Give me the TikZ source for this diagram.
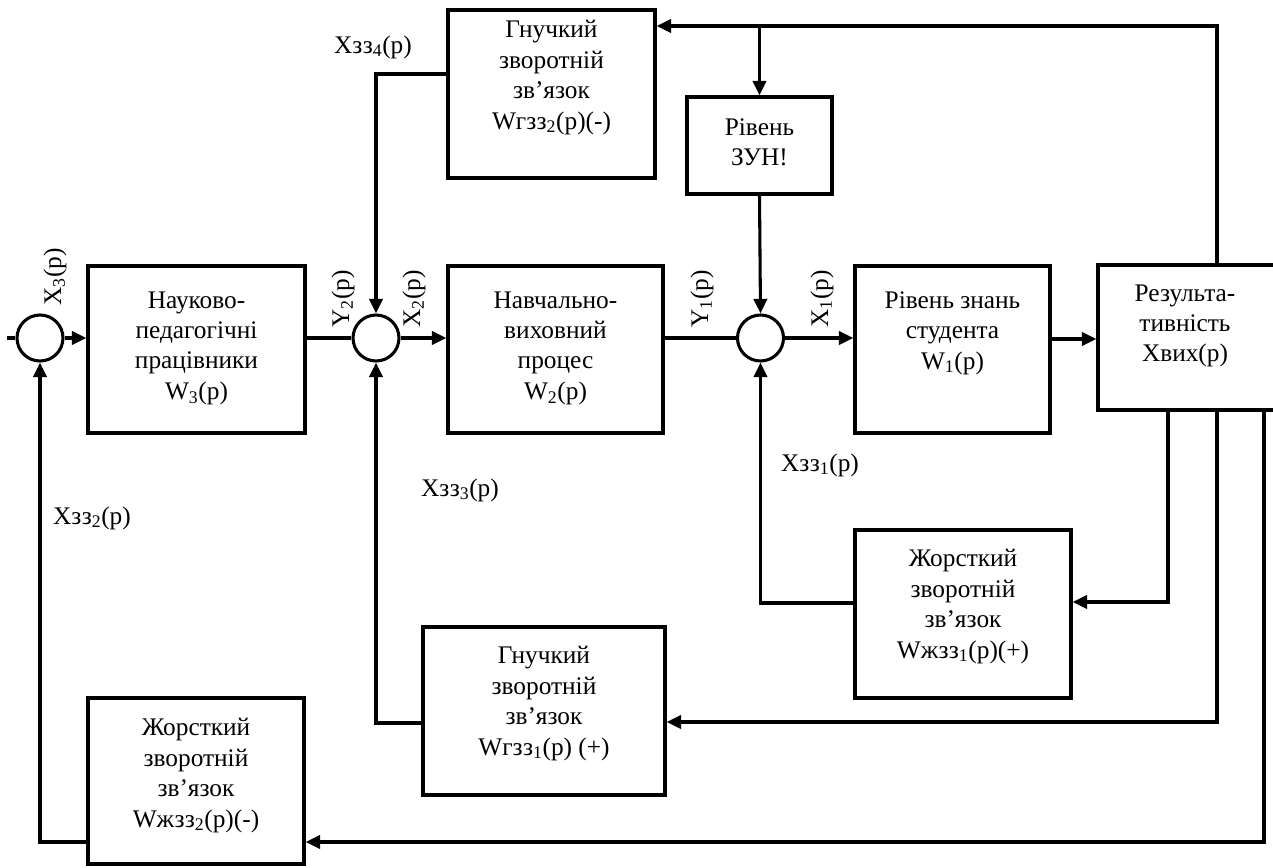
\documentclass[tikz,border=0pt]{standalone}
\usepackage{fontspec}
\setmainfont{Liberation Serif}
\usetikzlibrary{arrows.meta}
\begin{document}
\begin{tikzpicture}[x=0.75pt,y=-0.75pt,
  line width=2.3pt,
  box/.style={draw,rectangle,inner sep=0pt,line width=2.3pt},
  txt/.style={inner sep=0pt,align=center,font=\fontsize{19}{22.8}\selectfont,anchor=north},
  lbl/.style={inner sep=0pt,font=\fontsize{19}{22.8}\selectfont},
  sum/.style={draw,circle,minimum size=46pt*0.75,inner sep=0pt,line width=2.3pt},
  arr/.style={-{Triangle[length=11pt,width=10pt]}}]
\useasboundingbox (0,0) rectangle (1273,867);
% boxes
\node[box,minimum width=217*0.75pt,minimum height=167*0.75pt] (b1) at (196.5,349.5) {};
\node[box,minimum width=215*0.75pt,minimum height=167*0.75pt] (b2) at (555.5,349.5) {};
\node[box,minimum width=195*0.75pt,minimum height=167*0.75pt] (b3) at (952.5,349.5) {};
\node[box,minimum width=184*0.75pt,minimum height=145*0.75pt] (b4) at (1190,337.5) {};
\node[box,minimum width=207*0.75pt,minimum height=168*0.75pt] (b5) at (551.5,94) {};
\node[box,minimum width=145*0.75pt,minimum height=97*0.75pt] (b6) at (759.5,145.5) {};
\node[box,minimum width=216*0.75pt,minimum height=168*0.75pt] (b7) at (963,614) {};
\node[box,minimum width=242*0.75pt,minimum height=168*0.75pt] (b8) at (544,711) {};
\node[box,minimum width=216*0.75pt,minimum height=166*0.75pt] (b9) at (196,781) {};
% texts
\node[txt] (t1) at (196.5,290) {Науково-\\педагогічні\\працівники\\W\textsubscript{3}(p)};
\node[txt] (t2) at (555.5,290) {Навчально-\\виховний\\процес\\W\textsubscript{2}(p)};
\node[txt] (t3) at (952.5,290) {Рівень знань\\студента\\W\textsubscript{1}(p)};
\node[txt] (t4) at (1185,283) {Результа-\\тивність\\Xвих(p)};
\node[txt] (t5) at (551.5,19) {Гнучкий\\зворотній\\зв’язок\\Wгзз\textsubscript{2}(p)(-)};
\node[txt] (t6) at (759.5,117) {Рівень\\ЗУН!};
\node[txt] (t7) at (963,548) {Жорсткий\\зворотній\\зв’язок\\Wжзз\textsubscript{1}(p)(+)};
\node[txt] (t8) at (544,645) {Гнучкий\\зворотній\\зв’язок\\Wгзз\textsubscript{1}(p) (+)};
\node[txt] (t9) at (196,717) {Жорсткий\\зворотній\\зв’язок\\Wжзз\textsubscript{2}(p)(-)};
% summing junctions
\node[sum] (c3) at (40,338) {};
\node[sum] (c2) at (376,338) {};
\node[sum] (c1) at (760.5,338) {};
% labels
\node[lbl,rotate=90] (lx3) at (55,277) {X\textsubscript{3}(p)};
\node[lbl,rotate=90] (ly2) at (343,299) {Y\textsubscript{2}(p)};
\node[lbl,rotate=90] (lx2) at (414,299) {X\textsubscript{2}(p)};
\node[lbl,rotate=90] (ly1) at (702,299) {Y\textsubscript{1}(p)};
\node[lbl,rotate=90] (lx1) at (822,299) {X\textsubscript{1}(p)};
\node[lbl] (lz4) at (373,47) {Xзз\textsubscript{4}(p)};
\node[lbl] (lz1) at (820,465) {Xзз\textsubscript{1}(p)};
\node[lbl] (lz3) at (460,490) {Xзз\textsubscript{3}(p)};
\node[lbl] (lz2) at (92,518) {Xзз\textsubscript{2}(p)};
% coordinates
\coordinate (in) at (7,338);
\coordinate (tr) at (1217,26);
\coordinate (k4) at (376,74);
\coordinate (o3) at (1050,339);
\coordinate (r1) at (1168,602);
\coordinate (l1) at (760.5,603);
\coordinate (r2) at (1217,722);
\coordinate (l2) at (376,723);
\coordinate (r3) at (1264,842);
\coordinate (l3) at (40,842);
% forward path
\draw (in) -- (c3.west);
\draw[arr] (c3.east) -- (c3.east -| b1.west);
\draw (c2.west -| b1.east) -- (c2.west);
\draw[arr] (c2.east) -- (c2.east -| b2.west);
\draw (c1.west -| b2.east) -- (c1.west);
\draw[arr] (c1.east) -- (c1.east -| b3.west);
\draw[arr] (o3) -- (o3 -| b4.west);
% top feedback
\draw[arr] (b4.north -| tr) -- (tr) -- (tr -| b5.east);
\draw[arr] (b6.north |- tr) -- (b6.north);
\draw[arr] (b6.south) -- (c1.north);
\draw[arr] (k4 -| b5.west) -- (k4) -- (c2.north);
% bottom feedbacks
\draw[arr] (b4.south -| r1) -- (r1) -- (r1 -| b7.east);
\draw[arr] (l1 -| b7.west) -- (l1) -- (c1.south);
\draw[arr] (b4.south -| r2) -- (r2) -- (r2 -| b8.east);
\draw[arr] (l2 -| b8.west) -- (l2) -- (c2.south);
\draw[arr] (b4.south -| r3) -- (r3) -- (r3 -| b9.east);
\draw[arr] (l3 -| b9.west) -- (l3) -- (c3.south);
\end{tikzpicture}
\end{document}
